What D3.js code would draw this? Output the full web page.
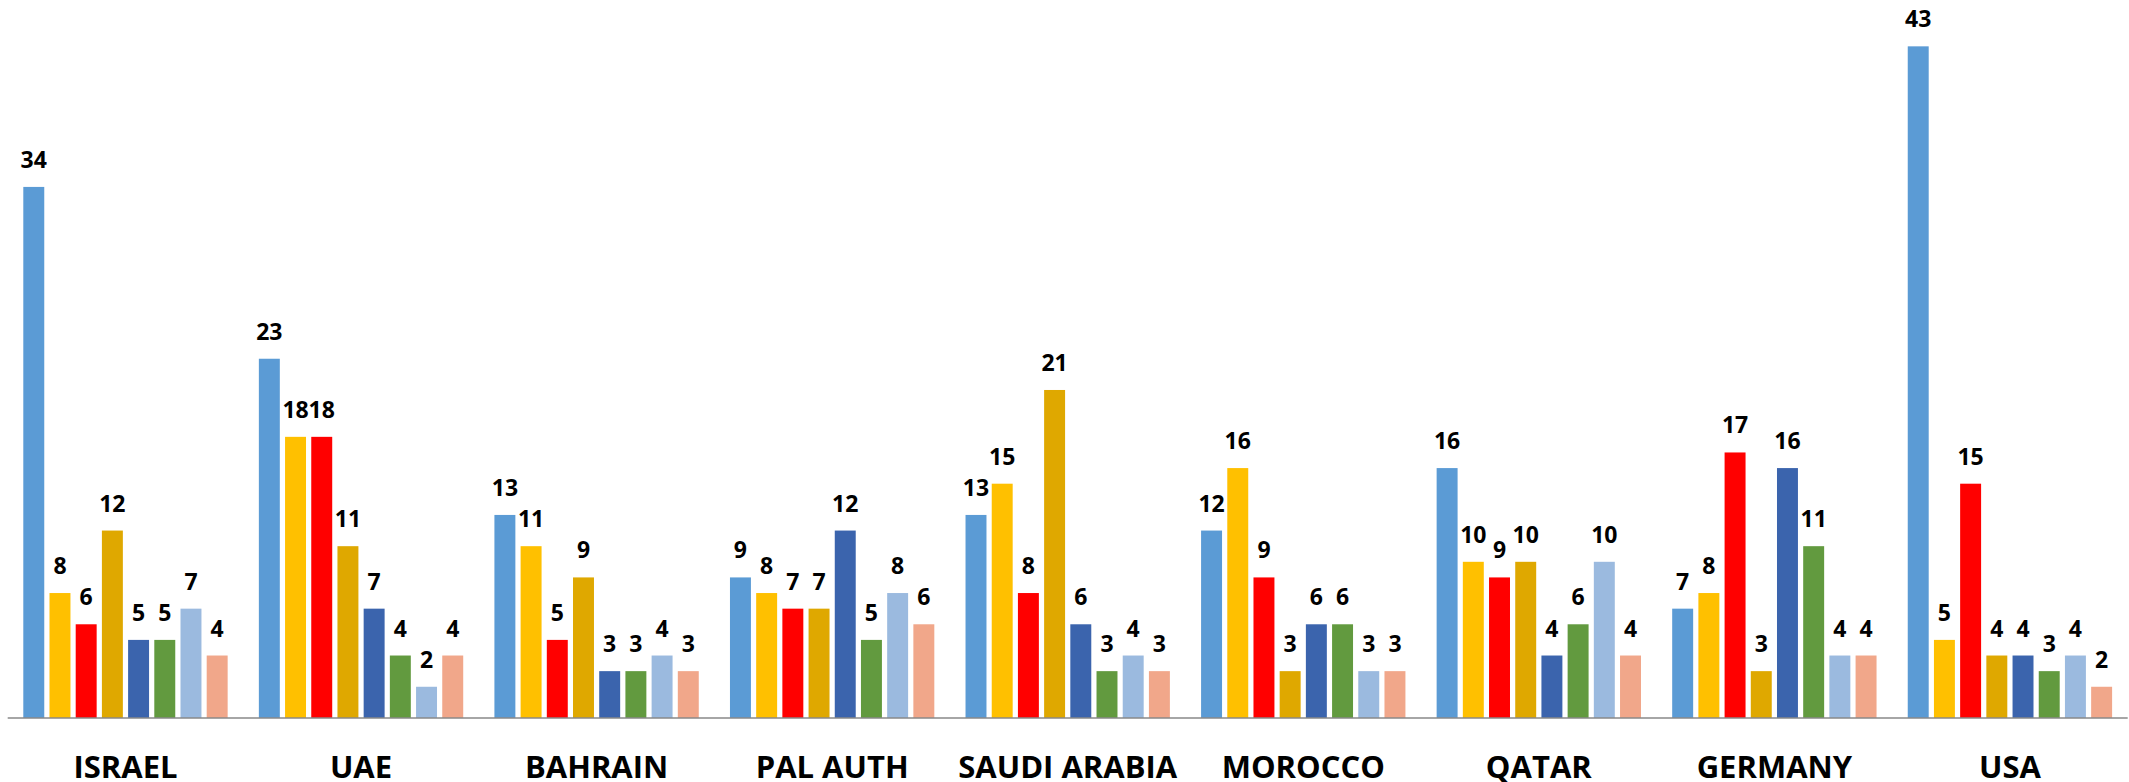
<!DOCTYPE html>
<html>
<head>
<meta charset="utf-8">
<script src="https://cdn.jsdelivr.net/npm/d3@7"></script>
<style>
html,body{margin:0;padding:0;background:#fff;}
svg{display:block;}
</style>
</head>
<body>
<svg id="chart" width="2129" height="782"></svg>
<script>
const categories = ["ISRAEL","UAE","BAHRAIN","PAL AUTH","SAUDI ARABIA","MOROCCO","QATAR","GERMANY","USA"];
const seriesNames = ["S1","S2","S3","S4","S5","S6","S7","S8"];
const s1 = [34, 23, 13, 9, 13, 12, 16, 7, 43];
const s2 = [8, 18, 11, 8, 15, 16, 10, 8, 5];
const s3 = [6, 18, 5, 7, 8, 9, 9, 17, 15];
const s4 = [12, 11, 9, 7, 21, 3, 10, 3, 4];
const s5 = [5, 7, 3, 12, 6, 6, 4, 16, 4];
const s6 = [5, 4, 3, 5, 3, 6, 6, 11, 3];
const s7 = [7, 2, 4, 8, 4, 3, 10, 4, 4];
const s8 = [4, 4, 3, 6, 3, 3, 4, 4, 2];
const seriesValues = [s1, s2, s3, s4, s5, s6, s7, s8];
const colors = ["#5B9BD5","#FFC000","#FF0000","#DFA800","#3B64AD","#629A3F","#9BBADF","#F1A78A"];

const svg = d3.select("#chart");
const axisY = 718;
const x0 = d3.scaleBand().domain(categories).range([7.7, 2127.7]).padding(0);
const inset = 15.6;
const x1 = d3.scaleBand().domain(d3.range(seriesNames.length))
  .range([inset, x0.bandwidth() - inset]).paddingInner(0.2).paddingOuter(0);
const y = d3.scaleLinear().domain([0, 43]).range([axisY, axisY - 43 * 15.62]);

const data = [];
categories.forEach((c, ci) => {
  seriesValues.forEach((arr, si) => data.push({cat: c, si: si, v: arr[ci]}));
});

svg.append("g").selectAll("rect").data(data).join("rect")
  .attr("x", d => x0(d.cat) + x1(d.si))
  .attr("y", d => y(d.v))
  .attr("width", x1.bandwidth())
  .attr("height", d => y(0) - y(d.v))
  .attr("fill", d => colors[d.si]);

svg.append("g").selectAll("text").data(data).join("text")
  .attr("x", d => x0(d.cat) + x1(d.si) + x1.bandwidth() / 2)
  .attr("y", d => y(d.v) - 19)
  .attr("text-anchor", "middle")
  .attr("font-family", "'Open Sans', sans-serif")
  .attr("font-weight", "bold")
  .attr("font-size", 23)
  .attr("fill", "#000")
  .text(d => d.v);

// x axis
const xAxis = d3.axisBottom(x0).tickSize(0).tickPadding(0);
const ax = svg.append("g").attr("transform", `translate(0,${axisY})`).call(xAxis);
ax.select(".domain").attr("stroke", "#898989").attr("stroke-width", 1.5)
  .attr("d", `M${x0.range()[0]},0H${x0.range()[1]}`);
ax.selectAll(".tick text")
  .attr("y", 59.7)
  .attr("dy", null)
  .attr("font-family", "'Open Sans', sans-serif")
  .attr("font-weight", "bold")
  .attr("font-size", 31)
  .attr("fill", "#000");
</script>
</body>
</html>
